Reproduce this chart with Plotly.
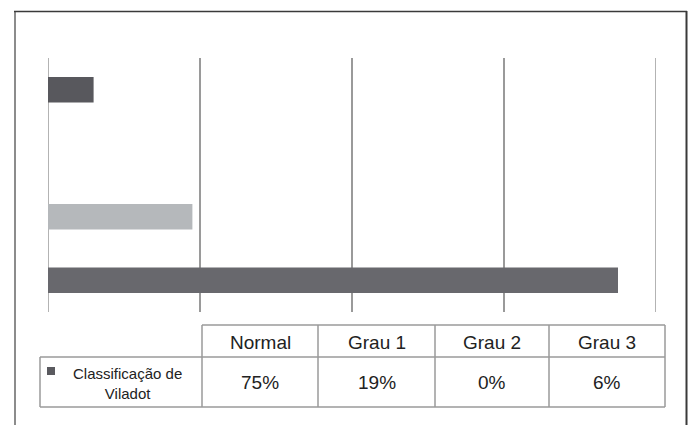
import plotly.graph_objects as go

# Viladot classification of the sample
categories = ["Normal", "Grau 1", "Grau 2", "Grau 3"]
values = [0.75, 0.19, 0.00, 0.06]
bar_colors = ["#68686d", "#b5b8bb", "#8a8a8e", "#58585d"]
series_name = "Classificação de<br>Viladot"
x_ticks = [0, 0.2, 0.4, 0.6, 0.8]

W, H = 691, 425


def px(x):
    return x / W


def py(y):
    return 1 - y / H


fig = go.Figure(
    go.Bar(
        x=values,
        y=categories,
        orientation="h",
        marker=dict(color=bar_colors, line=dict(width=0)),
        hoverinfo="skip",
    )
)

TEXT_FONT = "Liberation Sans, Arial, sans-serif"
GRID = "#9a9a9a"
PLOT_TOP, PLOT_BOTTOM = 58, 312

shapes = []
annotations = []

# grid lines at both ends of the value range (Plotly skips grid lines on the plot edge)
for xv in (x_ticks[0], x_ticks[-1]):
    shapes.append(dict(type="line", xref="x", yref="paper",
                       x0=xv, x1=xv, y0=py(PLOT_BOTTOM), y1=py(PLOT_TOP),
                       line=dict(color=GRID, width=1.5), layer="below"))

# frame around the whole chart
shapes.append(dict(type="line", xref="paper", yref="paper",
                   x0=px(15), x1=px(15), y0=py(11), y1=py(430),
                   line=dict(color="#8c8c8c", width=2)))
shapes.append(dict(type="line", xref="paper", yref="paper",
                   x0=px(14), x1=px(687), y0=py(11.5), y1=py(11.5),
                   line=dict(color="#3a3a3a", width=1.3)))
shapes.append(dict(type="line", xref="paper", yref="paper",
                   x0=px(686.5), x1=px(686.5), y0=py(11), y1=py(430),
                   line=dict(color="#3a3a3a", width=2)))

# data table under the plot
col_edges = [202, 318, 435, 549, 665]
top_hdr, mid, bot = 325, 357, 407
label_left = 40
tbl_line = dict(color=GRID, width=1.5)

shapes.append(dict(type="line", xref="paper", yref="paper",
                   x0=px(col_edges[0]), x1=px(col_edges[-1]), y0=py(top_hdr), y1=py(top_hdr), line=tbl_line))
shapes.append(dict(type="line", xref="paper", yref="paper",
                   x0=px(label_left), x1=px(col_edges[-1]), y0=py(mid), y1=py(mid), line=tbl_line))
shapes.append(dict(type="line", xref="paper", yref="paper",
                   x0=px(label_left), x1=px(col_edges[-1]), y0=py(bot), y1=py(bot), line=tbl_line))
shapes.append(dict(type="line", xref="paper", yref="paper",
                   x0=px(label_left), x1=px(label_left), y0=py(mid), y1=py(bot), line=tbl_line))
for xe in col_edges:
    shapes.append(dict(type="line", xref="paper", yref="paper",
                       x0=px(xe), x1=px(xe), y0=py(top_hdr), y1=py(bot), line=tbl_line))

# legend key in the table row header
shapes.append(dict(type="rect", xref="paper", yref="paper",
                   x0=px(47), x1=px(55), y0=py(375), y1=py(367),
                   fillcolor="#5a5a5f", line=dict(width=0)))

annotations.append(dict(xref="paper", yref="paper", x=px(128), y=py(383),
                        text=series_name, showarrow=False, xanchor="center", yanchor="middle",
                        font=dict(family=TEXT_FONT, size=15, color="#222")))

for i, (cat, val) in enumerate(zip(categories, values)):
    cx = (col_edges[i] + col_edges[i + 1]) / 2
    annotations.append(dict(xref="paper", yref="paper", x=px(cx), y=py((top_hdr + mid) / 2 + 1),
                            text=cat, showarrow=False, xanchor="center", yanchor="middle",
                            font=dict(family=TEXT_FONT, size=19, color="#222")))
    annotations.append(dict(xref="paper", yref="paper", x=px(cx), y=py((mid + bot) / 2),
                            text=f"{val:.0%}", showarrow=False, xanchor="center", yanchor="middle",
                            font=dict(family=TEXT_FONT, size=19, color="#222")))

fig.update_layout(
    width=W,
    height=H,
    margin=dict(l=0, r=0, t=0, b=0),
    paper_bgcolor="white",
    plot_bgcolor="white",
    showlegend=False,
    bargap=0.6,
    xaxis=dict(
        domain=[px(48), px(656)],
        range=[x_ticks[0], x_ticks[-1]],
        tickvals=x_ticks,
        showticklabels=False,
        showgrid=True,
        gridcolor=GRID,
        gridwidth=1.5,
        zeroline=False,
        showline=False,
        fixedrange=True,
    ),
    yaxis=dict(
        domain=[py(PLOT_BOTTOM), py(PLOT_TOP)],
        categoryorder="array",
        categoryarray=categories,
        showticklabels=False,
        showgrid=False,
        zeroline=False,
        showline=False,
        fixedrange=True,
    ),
    shapes=shapes,
    annotations=annotations,
)

fig.write_html("out.html")
